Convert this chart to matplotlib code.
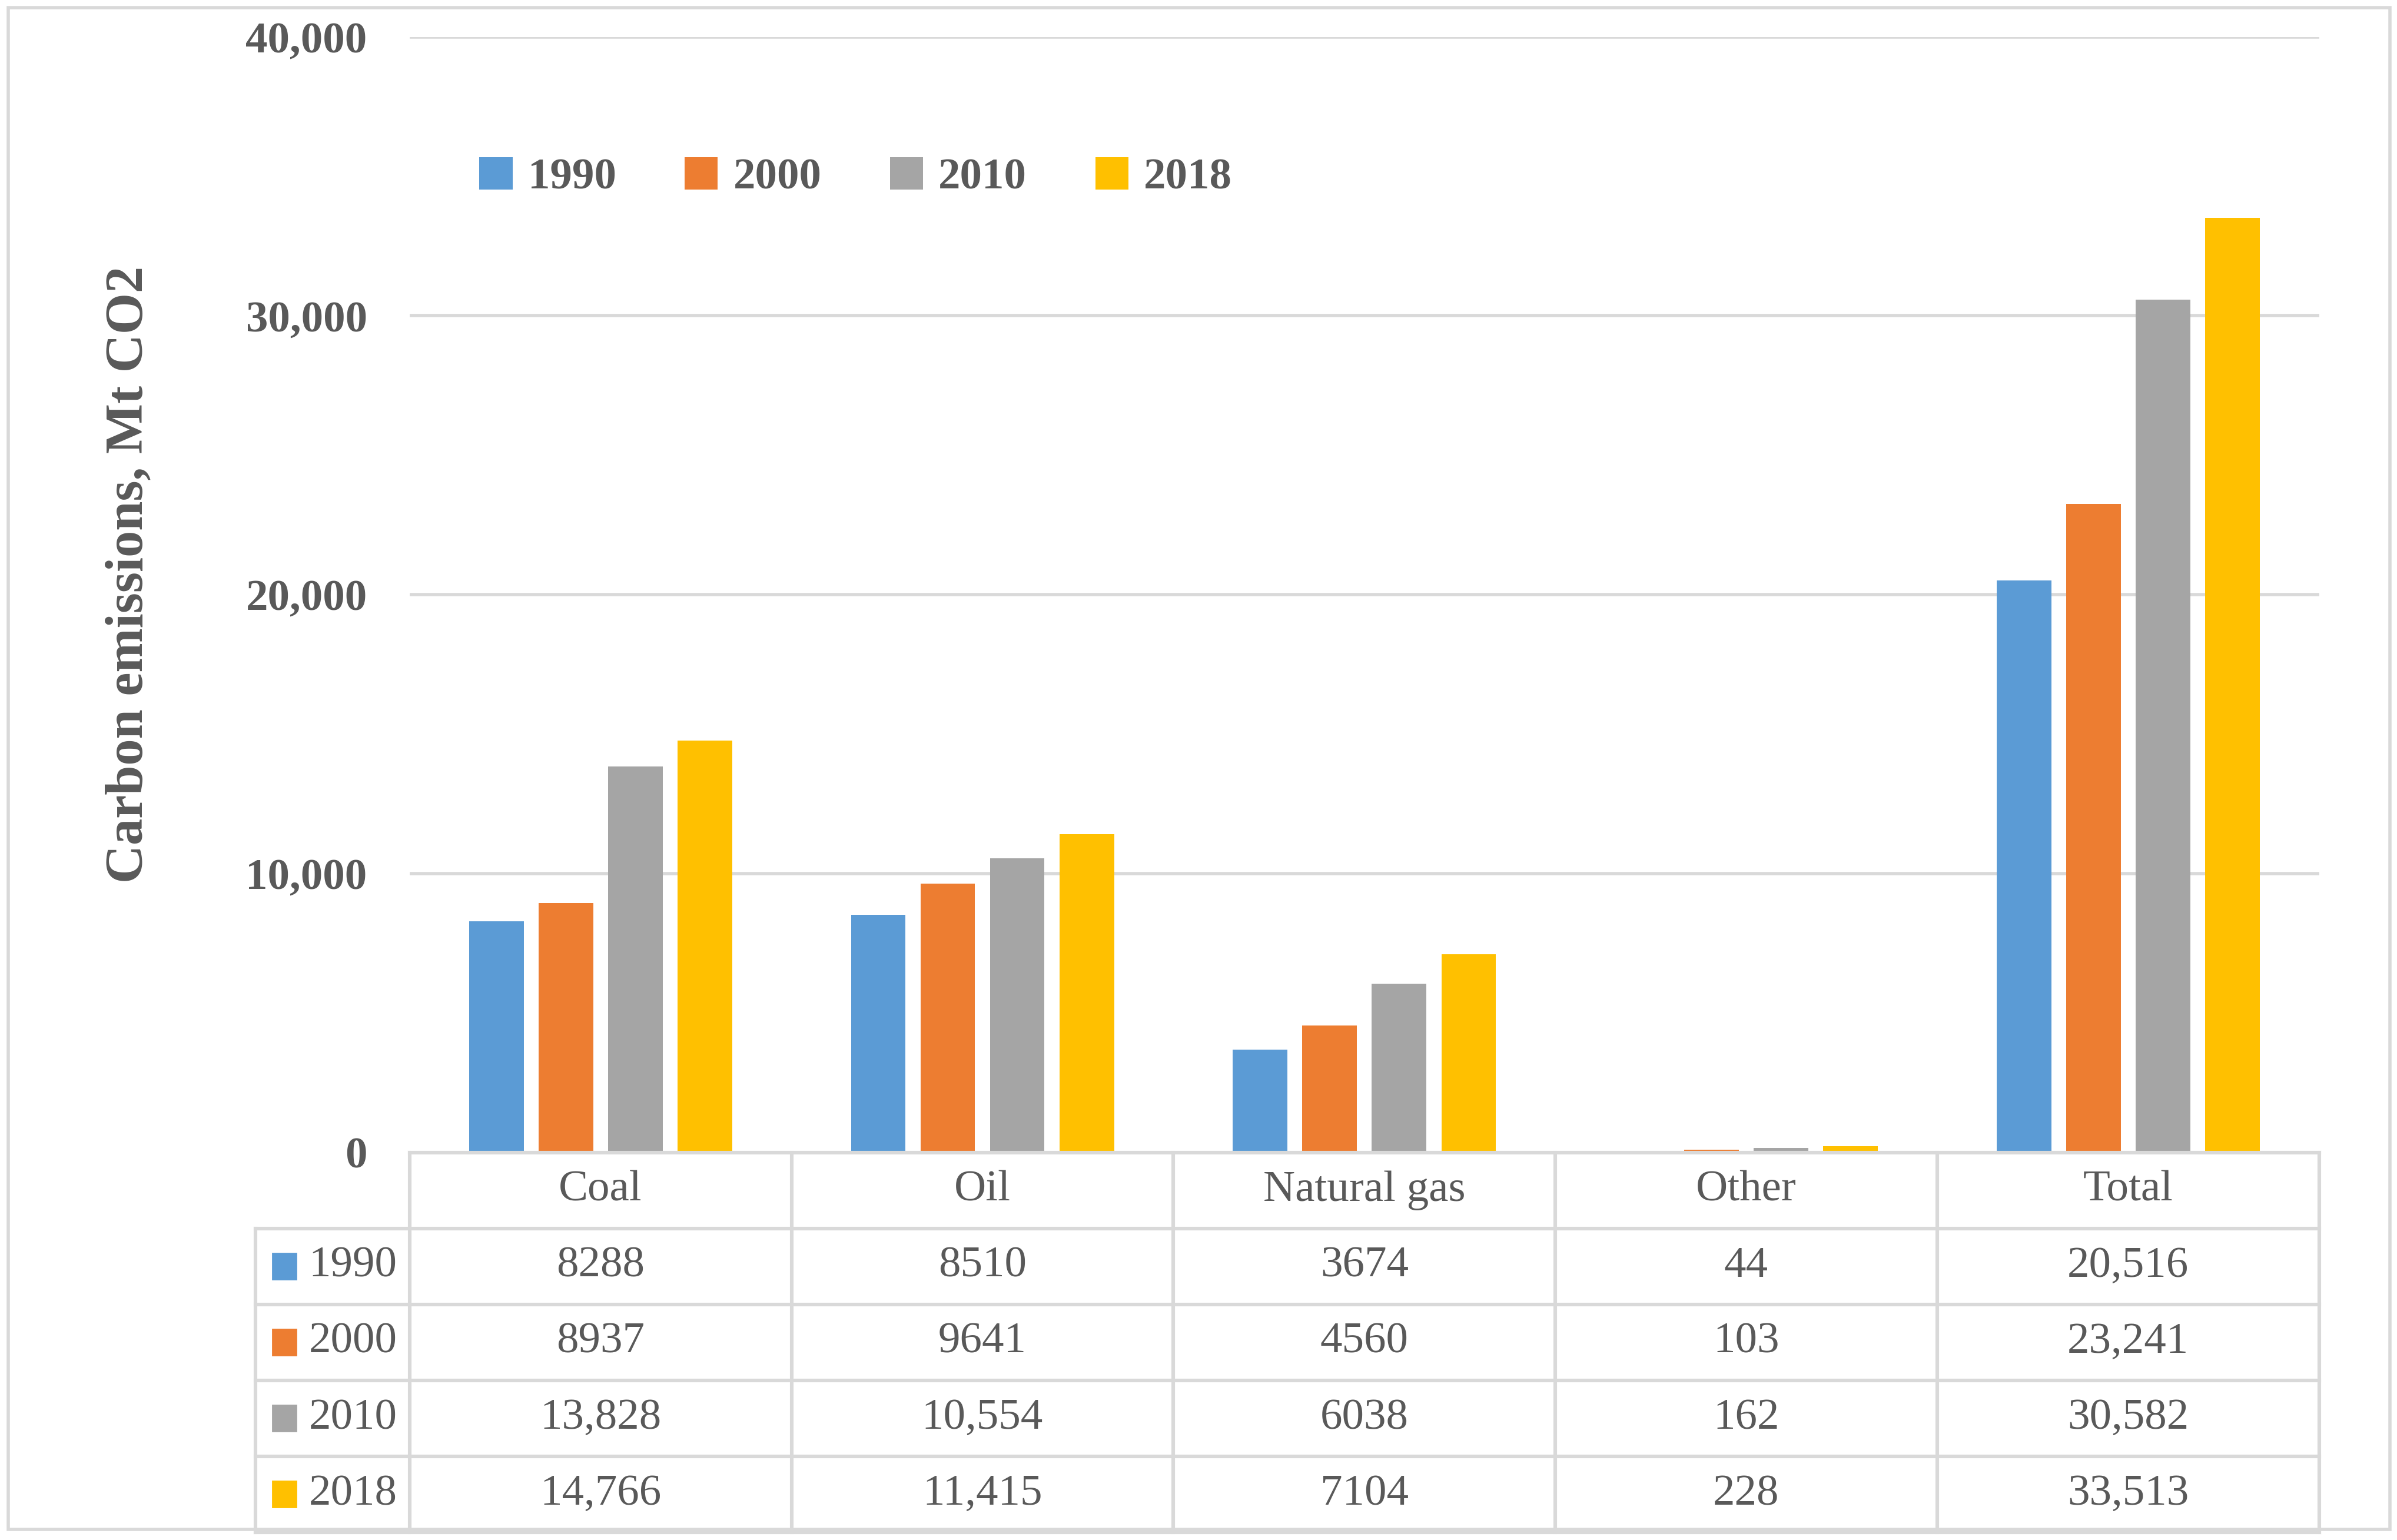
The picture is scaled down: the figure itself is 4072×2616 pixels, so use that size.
import matplotlib
matplotlib.use("Agg")
import matplotlib.pyplot as plt
from matplotlib.patches import Rectangle
from matplotlib.ticker import FuncFormatter

# data
categories = ["Coal", "Oil", "Natural gas", "Other", "Total"]
years = ["1990", "2000", "2010", "2018"]
values_1990 = [8288, 8510, 3674, 44, 20516]
values_2000 = [8937, 9641, 4560, 103, 23241]
values_2010 = [13828, 10554, 6038, 162, 30582]
values_2018 = [14766, 11415, 7104, 228, 33513]
series = [values_1990, values_2000, values_2010, values_2018]
colors = ["#5B9BD5", "#ED7D31", "#A5A5A5", "#FFC000"]

text_color = "#595959"
grid_color = "#D9D9D9"
plt.rcParams["font.family"] = ["Liberation Serif", "DejaVu Serif"]


def fmt_value(v):
    # the chart writes 4-digit numbers without a separator
    return "{:,}".format(v) if v >= 10000 else str(v)


fig = plt.figure(figsize=(20.36, 13.08), dpi=200)

# outer frame of the chart
fig.patches.append(Rectangle((0.0035, 0.007), 0.9935, 0.988,
                             transform=fig.transFigure, fill=False,
                             edgecolor=grid_color, linewidth=2))

left, right = 0.1709, 0.9675
bottom, top = 0.2517, 0.9761
ax = fig.add_axes([left, bottom, right - left, top - bottom])

bar_w = 0.143
step = 0.182
for i, (vals, col, yr) in enumerate(zip(series, colors, years)):
    xs = [c + (i - 1.5) * step for c in range(len(categories))]
    ax.bar(xs, vals, width=bar_w, color=col, label=yr, zorder=3)

ax.set_xlim(-0.5, len(categories) - 0.5)
ax.set_ylim(0, 40000)
ax.set_yticks(range(0, 40001, 10000))
ax.yaxis.set_major_formatter(FuncFormatter(lambda v, p: "{:,.0f}".format(v)))
ax.set_xticks([])
ax.tick_params(axis="y", length=0, pad=26, labelsize=27, labelcolor=text_color)
for lab in ax.get_yticklabels():
    lab.set_fontweight("bold")
ax.grid(axis="y", color=grid_color, linewidth=2, zorder=0)
for side in ["top", "right", "left", "bottom"]:
    ax.spines[side].set_visible(False)

fig.text(0.054, 0.627, "Carbon emissions, Mt CO2", rotation=90,
         ha="center", va="center", fontsize=32.5, fontweight="bold",
         color=text_color)

leg = ax.legend(loc="center", bbox_to_anchor=(0.357, 0.8846),
                bbox_transform=fig.transFigure, ncol=4, frameon=False,
                prop={"size": 27, "weight": "bold"}, handlelength=0.75,
                handleheight=0.75, handletextpad=0.35, columnspacing=1.55)
for t in leg.get_texts():
    t.set_color(text_color)

# data table under the plot
key_w = (268 - 167) / 250.0
tab_left = 0.1065
tab = fig.add_axes([tab_left, 0.005, right - tab_left, bottom - 0.005])
tab.set_xlim(-0.5 - key_w, len(categories) - 0.5)
tab.set_ylim(5, 0)
tab.axis("off")
lw = 2.2
n = len(categories)
# horizontal lines
tab.plot([-0.5, n - 0.5], [0, 0], color=grid_color, lw=lw, clip_on=False)
for r in range(1, 6):
    tab.plot([-0.5 - key_w, n - 0.5], [r, r], color=grid_color, lw=lw,
             clip_on=False)
# vertical lines
for c in range(n + 1):
    tab.plot([c - 0.5, c - 0.5], [0, 5], color=grid_color, lw=lw,
             clip_on=False)
tab.plot([-0.5 - key_w, -0.5 - key_w], [1, 5], color=grid_color, lw=lw,
         clip_on=False)

for c, name in enumerate(categories):
    tab.text(c, 0.5, name, ha="center", va="center", fontsize=27,
             color=text_color)
for r, (vals, col, yr) in enumerate(zip(series, colors, years)):
    y = r + 1.5
    tab.add_patch(Rectangle((-0.5 - key_w + 0.045, y - 0.17), 0.062, 0.34,
                            color=col, clip_on=False))
    tab.text(-0.5 - key_w + 0.14, y, yr, ha="left", va="center",
             fontsize=27, color=text_color)
    for c, v in enumerate(vals):
        tab.text(c, y, fmt_value(v), ha="center", va="center", fontsize=27,
                 color=text_color)

fig.savefig("out.png", dpi=200)
